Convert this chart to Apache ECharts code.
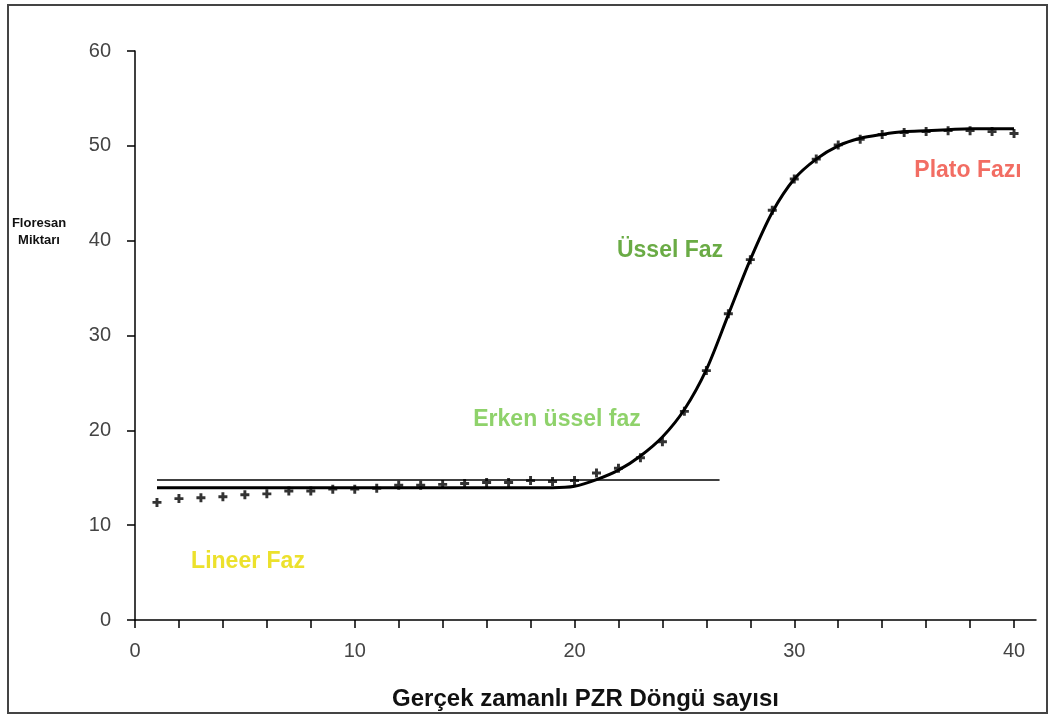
<!DOCTYPE html>
<html>
<head>
<meta charset="utf-8">
<script src="https://cdn.jsdelivr.net/npm/echarts@6/dist/echarts.min.js"></script>
<style>
html,body{margin:0;padding:0;background:#fff;}
#chart{width:1051px;height:716px;}
</style>
</head>
<body>
<div id="chart"></div>
<script>
// Cycle numbers
const cycles = [1,2,3,4,5,6,7,8,9,10,11,12,13,14,15,16,17,18,19,20,21,22,23,24,25,26,27,28,29,30,31,32,33,34,35,36,37,38,39,40];
// Measured fluorescence (points)
const measured = [12.4,12.8,12.9,13.0,13.2,13.3,13.6,13.6,13.8,13.8,13.9,14.2,14.2,14.3,14.4,14.5,14.5,14.7,14.6,14.7,15.5,16.0,17.1,18.8,22.0,26.3,32.3,38.0,43.2,46.5,48.6,50.1,50.7,51.2,51.4,51.5,51.6,51.6,51.5,51.3];
// Fitted curve
const fitted = [13.95,13.95,13.95,13.95,13.95,13.95,13.95,13.95,13.95,13.95,13.95,13.95,13.95,13.95,13.95,13.95,13.95,13.95,13.95,14.1,14.8,15.8,17.3,19.3,22.2,26.4,32.2,38.0,43.0,46.5,48.6,50.0,50.8,51.2,51.5,51.6,51.7,51.8,51.8,51.8];
// Threshold line
const thresholdX = [1, 26.6];
const thresholdY = 14.75;
// Axis ticks
const xTickValues = [0,2,4,6,8,10,12,14,16,18,20,22,24,26,28,30,32,34,36,38,40];
const xLabelValues = [0,10,20,30,40];
const yTicks = [0,10,20,30,40,50,60];

const chart = echarts.init(document.getElementById('chart'));
const tickFont = "'Liberation Sans','Arial',sans-serif";
const boldFont = "'Liberation Sans','Arial',sans-serif";

chart.setOption({
  animation: false,
  backgroundColor: '#fff',
  grid: {left: 135, right: 15, top: 51, bottom: 96, containLabel: false, outerBoundsMode: 'none'},
  xAxis: {
    type: 'value', min: 0, max: 41,
    splitLine: {show: false},
    axisLine: {show: true, onZero: false, lineStyle: {color: '#000', width: 1.5}},
    axisTick: {show: true, length: 8, customValues: xTickValues, lineStyle: {color: '#000', width: 1.5}},
    axisLabel: {customValues: xLabelValues, color: '#444', fontFamily: tickFont, fontSize: 20, margin: 21},
    name: 'Gerçek zamanlı PZR Döngü sayısı',
    nameLocation: 'middle', nameGap: 67,
    nameTextStyle: {color: '#111', fontFamily: boldFont, fontWeight: 'bold', fontSize: 24}
  },
  yAxis: {
    type: 'value', min: 0, max: 60, interval: 10,
    splitLine: {show: false},
    axisLine: {show: true, lineStyle: {color: '#000', width: 1.5}},
    axisTick: {show: true, length: 8, lineStyle: {color: '#000', width: 1.5}},
    axisLabel: {color: '#444', fontFamily: tickFont, fontSize: 20, margin: 24,
      customValues: yTicks}
  },
  graphic: [
    {type: 'rect', shape: {x: 8, y: 5, width: 1039, height: 708},
      style: {fill: 'none', stroke: '#444', lineWidth: 2}, z: -1},
    {type: 'text', x: 39, y: 232, style: {text: 'Floresan\nMiktarı', fill: '#111', font: 'bold 13px ' + boldFont, align: 'center', verticalAlign: 'middle', lineHeight: 17}},
    {type: 'text', x: 248, y: 562, style: {text: 'Lineer Faz', fill: '#ece12c', font: 'bold 23px ' + boldFont, align: 'center', verticalAlign: 'middle'}},
    {type: 'text', x: 557, y: 420, style: {text: 'Erken üssel faz', fill: '#8fd26b', font: 'bold 23px ' + boldFont, align: 'center', verticalAlign: 'middle'}},
    {type: 'text', x: 670, y: 251, style: {text: 'Üssel Faz', fill: '#6aab45', font: 'bold 23px ' + boldFont, align: 'center', verticalAlign: 'middle'}},
    {type: 'text', x: 968, y: 171, style: {text: 'Plato Fazı', fill: '#f26d63', font: 'bold 23px ' + boldFont, align: 'center', verticalAlign: 'middle'}}
  ],
  series: [
    {
      type: 'line', name: 'threshold',
      data: thresholdX.map(x => [x, thresholdY]),
      symbol: 'none', lineStyle: {color: '#000', width: 1.5}, z: 2
    },
    {
      type: 'line', name: 'fit',
      data: cycles.map((c, i) => [c, fitted[i]]),
      symbol: 'none', smooth: 0.3, lineStyle: {color: '#000', width: 3}, z: 3
    },
    {
      type: 'scatter', name: 'measured',
      data: cycles.map((c, i) => [c, measured[i]]),
      symbol: 'path://M-1.3,-4 L1.3,-4 L1.3,-1.3 L4,-1.3 L4,1.3 L1.3,1.3 L1.3,4 L-1.3,4 L-1.3,1.3 L-4,1.3 L-4,-1.3 L-1.3,-1.3 Z',
      symbolSize: 9, itemStyle: {color: '#000'}, z: 4
    }
  ]
});
</script>
</body>
</html>
